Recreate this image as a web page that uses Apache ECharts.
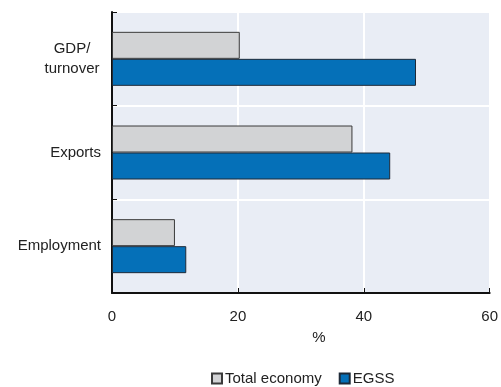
<!DOCTYPE html>
<html>
<head>
<meta charset="utf-8">
<script src="https://cdn.jsdelivr.net/npm/echarts@6/dist/echarts.min.js"></script>
<style>
  html, body { margin: 0; padding: 0; background: #fff; }
  #chart { width: 501px; height: 387px; }
</style>
</head>
<body>
<div id="chart"></div>
<script>
// Share of the environmental goods and services sector (EGSS) vs. total economy, %
const categories = ['GDP/\nturnover', 'Exports', 'Employment'];
const totalEconomy = [20.3, 38.2, 10.0];
const egss = [48.3, 44.2, 11.8];
const xTicks = [0, 20, 40, 60];

const FONT = '"Liberation Sans", Arial, sans-serif';
const TEXT = '#222';

const chart = echarts.init(document.getElementById('chart'), null, { renderer: 'canvas' });

chart.setOption({
  animation: false,
  textStyle: { fontFamily: FONT, color: TEXT },
  grid: {
    left: 112, right: 10, top: 12, bottom: 94,
    show: true, backgroundColor: '#e9edf5', borderWidth: 0
  },
  legend: {
    left: 206, top: 366,
    icon: 'rect', itemWidth: 10, itemHeight: 10, itemGap: 17,
    textStyle: { fontFamily: FONT, fontSize: 15, color: TEXT, padding: [0, 0, 0, -2] },
    data: ['Total economy', 'EGSS']
  },
  xAxis: {
    type: 'value',
    min: xTicks[0], max: xTicks[xTicks.length - 1], interval: 20,
    name: '%', nameLocation: 'middle', nameGap: 37,
    nameTextStyle: { fontFamily: FONT, fontSize: 15, color: TEXT, padding: [0, 0, 0, 36] },
    axisLine: { show: true, lineStyle: { color: '#111', width: 2 } },
    axisTick: { show: true, inside: true, length: 5, lineStyle: { color: '#111', width: 1 } },
    axisLabel: { fontFamily: FONT, fontSize: 15, color: TEXT, margin: 16 },
    splitLine: { show: true, lineStyle: { color: '#ffffff', width: 2 } }
  },
  yAxis: {
    type: 'category',
    data: categories,
    inverse: true,
    axisLine: { show: true, lineStyle: { color: '#111', width: 2 } },
    axisTick: { show: true, inside: true, length: 5, lineStyle: { color: '#111', width: 1 } },
    axisLabel: {
      fontFamily: FONT, fontSize: 15, color: TEXT, margin: 11, align: 'right',
      formatter: function (v) {
        if (v.indexOf('\n') >= 0) {
          return v.split('\n').map(function (s) { return '{c|' + s + '}'; }).join('\n');
        }
        return v;
      },
      rich: {
        c: { width: 58, align: 'center', fontSize: 15, lineHeight: 20, fontFamily: FONT, color: TEXT }
      }
    },
    splitLine: { show: true, lineStyle: { color: '#ffffff', width: 2 } }
  },
  series: [
    {
      name: 'Total economy', type: 'bar',
      data: totalEconomy,
      barWidth: 27, barGap: '0%',
      itemStyle: { color: '#d2d3d5', borderColor: '#3a3a3a', borderWidth: 1 }
    },
    {
      name: 'EGSS', type: 'bar',
      data: egss,
      barWidth: 27, barGap: '0%',
      itemStyle: { color: '#0570b8', borderColor: '#1e2a38', borderWidth: 1 }
    }
  ]
});
</script>
</body>
</html>
